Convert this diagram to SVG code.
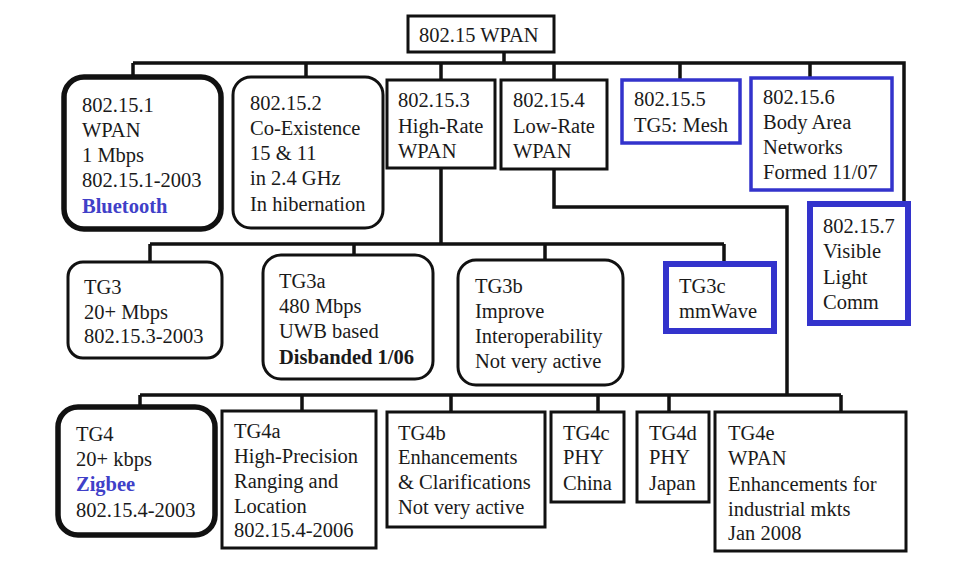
<svg xmlns="http://www.w3.org/2000/svg" width="958" height="582" viewBox="0 0 958 582">
<style>
text{font-family:'Times New Roman','Liberation Serif',Tinos,serif;font-size:20.5px;fill:#1a1a1a}
.b{fill:#fff;stroke:#111;stroke-width:3}
.bt{fill:#fff;stroke:#111;stroke-width:5.5}
.bl{fill:#fff;stroke:#3333cc;stroke-width:3.5}
.blt{fill:#fff;stroke:#3333cc;stroke-width:6}
.c{fill:none;stroke:#111;stroke-width:3.5;stroke-linejoin:miter}
.blue{fill:#4040c8;font-weight:bold}
.bold{font-weight:bold}
</style>
<rect width="958" height="582" fill="#fff"/>
<g id="connectors">
<path class="c" d="M504 52V63M133 63H904V203M133 63V76M306 63V76M441 63V79M554 63V80M680 63V79M810 63V77"/>
<path class="c" d="M441 168V244M150 244H724M150 244V262M354 244V255M545 244V260M724 244V261"/>
<path class="c" d="M554 169V207H787V395M140 395H841M140 395V406M302 395V410M451 395V412M598 395V412M669 395V412M841 395V412"/>
</g>
<g id="root"><rect class="b" x="408" y="16" width="146" height="36"/><text x="419" y="42">802.15 WPAN</text></g>
<g id="n1"><rect class="bt" x="64" y="77" width="157" height="152" rx="20"/>
<text x="82" y="112">802.15.1</text><text x="82" y="137">WPAN</text><text x="82" y="162">1 Mbps</text><text x="82" y="187">802.15.1-2003</text><text class="blue" x="82" y="213">Bluetooth</text></g>
<g id="n2"><rect class="b" x="233" y="77" width="150" height="151" rx="18"/>
<text x="250" y="110">802.15.2</text><text x="250" y="135">Co-Existence</text><text x="250" y="160">15 &amp; 11</text><text x="250" y="185">in 2.4 GHz</text><text x="250" y="211">In hibernation</text></g>
<g id="n3"><rect class="b" x="387" y="80" width="108" height="88"/>
<text x="398" y="107">802.15.3</text><text x="398" y="133">High-Rate</text><text x="398" y="158">WPAN</text></g>
<g id="n4"><rect class="b" x="501" y="80" width="106" height="89"/>
<text x="513" y="107">802.15.4</text><text x="513" y="133">Low-Rate</text><text x="513" y="158">WPAN</text></g>
<g id="n5"><rect class="bl" x="622" y="80" width="118" height="63"/>
<text x="634" y="106">802.15.5</text><text x="634" y="132">TG5: Mesh</text></g>
<g id="n6"><rect class="bl" x="751" y="78" width="141" height="112"/>
<text x="763" y="104">802.15.6</text><text x="763" y="129">Body Area</text><text x="763" y="154">Networks</text><text x="763" y="179">Formed 11/07</text></g>
<g id="n7"><rect class="blt" x="810" y="204" width="98" height="119"/>
<text x="823" y="233">802.15.7</text><text x="823" y="258">Visible</text><text x="823" y="284">Light</text><text x="823" y="309">Comm</text></g>
<g id="tg3"><rect class="b" x="68" y="262" width="154" height="96" rx="15"/>
<text x="84" y="294">TG3</text><text x="84" y="319">20+ Mbps</text><text x="84" y="343">802.15.3-2003</text></g>
<g id="tg3a"><rect class="b" x="263" y="255" width="170" height="124" rx="18"/>
<text x="279" y="288">TG3a</text><text x="279" y="313">480 Mbps</text><text x="279" y="338">UWB based</text><text class="bold" x="279" y="364">Disbanded 1/06</text></g>
<g id="tg3b"><rect class="b" x="458" y="260" width="165" height="125" rx="18"/>
<text x="475" y="293">TG3b</text><text x="475" y="318">Improve</text><text x="475" y="343">Interoperability</text><text x="475" y="368">Not very active</text></g>
<g id="tg3c"><rect class="blt" x="666" y="264" width="108" height="67"/>
<text x="679" y="293">TG3c</text><text x="679" y="318">mmWave</text></g>
<g id="tg4"><rect class="bt" x="58" y="407" width="157" height="128" rx="20"/>
<text x="76" y="441">TG4</text><text x="76" y="466">20+ kbps</text><text class="blue" x="76" y="491">Zigbee</text><text x="76" y="517">802.15.4-2003</text></g>
<g id="tg4a"><rect class="b" x="222" y="411" width="154" height="137"/>
<text x="234" y="438">TG4a</text><text x="234" y="463">High-Precision</text><text x="234" y="488">Ranging and</text><text x="234" y="513">Location</text><text x="234" y="537">802.15.4-2006</text></g>
<g id="tg4b"><rect class="b" x="387" y="412" width="158" height="115"/>
<text x="398" y="440">TG4b</text><text x="398" y="464">Enhancements</text><text x="398" y="489">&amp; Clarifications</text><text x="398" y="514">Not very active</text></g>
<g id="tg4c"><rect class="b" x="551" y="412" width="73" height="90"/>
<text x="563" y="440">TG4c</text><text x="563" y="464">PHY</text><text x="563" y="490">China</text></g>
<g id="tg4d"><rect class="b" x="637" y="412" width="72" height="90"/>
<text x="649" y="440">TG4d</text><text x="649" y="464">PHY</text><text x="649" y="490">Japan</text></g>
<g id="tg4e"><rect class="b" x="715" y="412" width="191" height="139"/>
<text x="728" y="440">TG4e</text><text x="728" y="465">WPAN</text><text x="728" y="491">Enhancements for</text><text x="728" y="516">industrial mkts</text><text x="728" y="540">Jan 2008</text></g>
</svg>
